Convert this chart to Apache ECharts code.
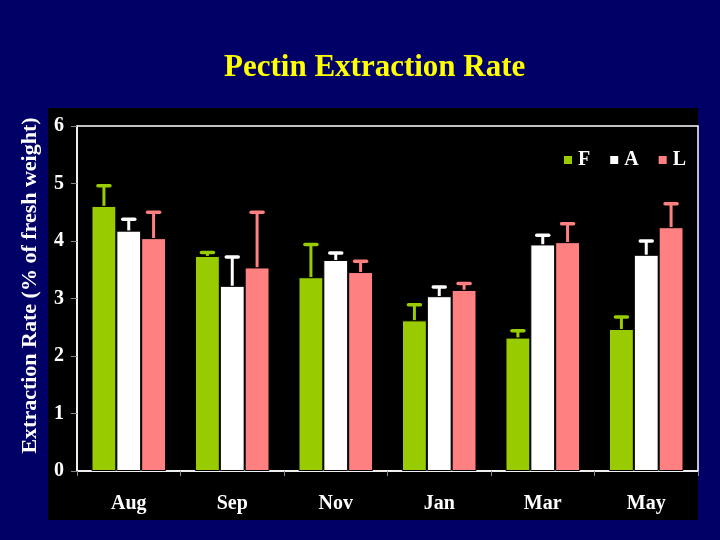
<!DOCTYPE html>
<html>
<head>
<meta charset="utf-8">
<script src="https://cdn.jsdelivr.net/npm/echarts@6/dist/echarts.min.js"></script>
<style>
  html, body { margin: 0; padding: 0; background: #000066; }
  #chart { width: 720px; height: 540px; }
</style>
</head>
<body>
<div id="chart"></div>
<script>
// 数据
const months = ['Aug', 'Sep', 'Nov', 'Jan', 'Mar', 'May']
const seriesNames = ['F', 'A', 'L']
const fValues = [4.61, 3.74, 3.37, 2.62, 2.32, 2.47]
const aValues = [4.18, 3.22, 3.67, 3.04, 3.94, 3.76]
const lValues = [4.05, 3.54, 3.46, 3.15, 3.98, 4.24]
// 误差（只画向上）
const fErr = [0.35, 0.06, 0.57, 0.27, 0.12, 0.21]
const aErr = [0.20, 0.50, 0.12, 0.16, 0.16, 0.24]
const lErr = [0.45, 0.96, 0.19, 0.11, 0.32, 0.41]
const yTicks = [0, 1, 2, 3, 4, 5, 6]

const colors = ['#99cc00', '#ffffff', '#ff8080']
const values = [fValues, aValues, lValues]
const errs = [fErr, aErr, lErr]
const catGap = 0.28
const serif = '"Liberation Serif", "DejaVu Serif", serif'

const chart = echarts.init(document.getElementById('chart'))

// 误差线 custom series
const errorSeries = function (idx) {
  return {
    type: 'custom',
    name: seriesNames[idx] + '-err',
    z: 1,
    silent: true,
    data: values[idx].map((v, i) => [i, v, v + errs[idx][i]]),
    renderItem: function (params, api) {
      const band = api.size([1, 0])[0]
      const bw = band * (1 - catGap) / 3
      const c = api.coord([api.value(0), api.value(1)])
      const t = api.coord([api.value(0), api.value(2)])
      const x = c[0] + (idx - 1) * bw
      const capW = 6
      const style = { stroke: colors[idx], lineWidth: 3 }
      return {
        type: 'group',
        children: [
          { type: 'line', shape: { x1: x, y1: c[1], x2: x, y2: t[1] }, style: style },
          { type: 'line', shape: { x1: x - capW, y1: t[1], x2: x + capW, y2: t[1] }, style: Object.assign({ lineCap: 'round' }, style, { lineWidth: 3.5 }) }
        ]
      }
    }
  }
}

const barSeries = seriesNames.map((n, idx) => ({
  type: 'bar',
  name: n,
  data: values[idx],
  z: 2,
  barGap: '0%',
  barCategoryGap: (catGap * 100) + '%',
  itemStyle: { color: colors[idx], borderColor: '#000000', borderWidth: 1 }
}))

const option = {
  backgroundColor: '#000066',
  animation: false,
  title: {
    text: 'Pectin Extraction Rate',
    left: 219,
    top: 47,
    textStyle: { color: '#ffff00', fontFamily: serif, fontWeight: 'bold', fontSize: 31 }
  },
  graphic: [
    { type: 'rect', z: -10, shape: { x: 48, y: 108, width: 650, height: 412 }, style: { fill: '#000000' } }
  ],
  legend: {
    data: seriesNames,
    right: 29,
    top: 145,
    itemWidth: 10,
    itemHeight: 10,
    itemGap: 18,
    icon: 'rect',
    textStyle: { color: '#ffffff', fontFamily: serif, fontWeight: 'bold', fontSize: 20 }
  },
  grid: {
    left: 77, right: 22, top: 126, bottom: 69,
    show: true,
    borderColor: '#ffffff',
    borderWidth: 1.5
  },
  xAxis: {
    type: 'category',
    data: months,
    axisLine: { lineStyle: { color: '#ffffff', width: 1.5 } },
    axisTick: { show: true, length: 5, lineStyle: { color: '#888888' } },
    axisLabel: { color: '#ffffff', fontFamily: serif, fontWeight: 'bold', fontSize: 20, margin: 23 }
  },
  yAxis: {
    type: 'value',
    min: 0,
    max: 6,
    interval: 1,
    name: 'Extraction Rate (% of fresh weight)',
    nameLocation: 'middle',
    nameGap: 36,
    nameTextStyle: { color: '#ffffff', fontFamily: serif, fontWeight: 'bold', fontSize: 22, padding: [0, 0, 0, 26] },
    splitLine: { show: false },
    axisLine: { show: true, lineStyle: { color: '#ffffff', width: 1.5 } },
    axisTick: { show: true, length: 6, lineStyle: { color: '#888888' } },
    axisLabel: {
      color: '#ffffff', fontFamily: serif, fontWeight: 'bold', fontSize: 20, margin: 13,
      formatter: v => yTicks.includes(v) ? String(v) : ''
    }
  },
  series: barSeries.concat([0, 1, 2].map(errorSeries))
}

chart.setOption(option)
</script>
</body>
</html>
